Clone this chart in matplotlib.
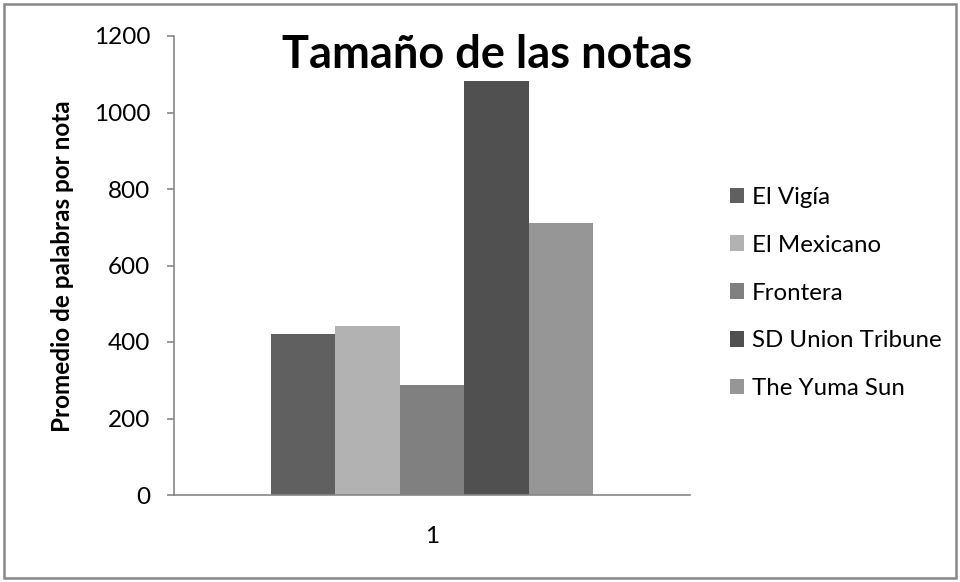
import matplotlib
matplotlib.use("Agg")
import matplotlib.pyplot as plt
from matplotlib.patches import Rectangle

# ── datos ──
periodicos = ["El Vigía", "El Mexicano", "Frontera", "SD Union Tribune", "The Yuma Sun"]
palabras = [422, 443, 288, 1083, 710]
colores = ["#606060", "#b2b2b2", "#808080", "#505050", "#969696"]
categorias = ["1"]
yticks = [0, 200, 400, 600, 800, 1000, 1200]

plt.rcParams["font.family"] = ["Lato", "DejaVu Sans"]

W, H = 960, 582
fig = plt.figure(figsize=(W / 100, H / 100), dpi=100)
ax = fig.add_axes([174 / W, 1 - 495 / H, 516 / W, 459 / H])

# barras agrupadas (estilo Excel, gap 60%)
n = len(periodicos)
ancho = 1 / (1 + 0.6) / n
for i, (nombre, val, col) in enumerate(zip(periodicos, palabras, colores)):
    off = (i - (n - 1) / 2) * ancho
    ax.bar(0 + off, val, width=ancho, color=col, label=nombre, linewidth=0)

ax.set_xlim(-0.5, 0.5)
ax.set_ylim(0, 1200)
ax.set_yticks(yticks)
ax.set_xticks([0])
ax.set_xticklabels(categorias)

gris = "#868686"
for s in ["top", "right"]:
    ax.spines[s].set_visible(False)
for s in ["left", "bottom"]:
    ax.spines[s].set_color(gris)
    ax.spines[s].set_linewidth(1.2)
ax.tick_params(axis="y", direction="out", length=5, color=gris, width=1.2,
               labelsize=17.5, pad=12)
ax.tick_params(axis="x", length=0, labelsize=17.5, pad=22)

fig.text(63 / W, 1 - 266 / H, "Promedio de palabras por nota", rotation=90,
         ha="center", va="center", fontsize=17.5, fontweight="bold")

fig.text(487 / W, 1 - 68 / H, "Tamaño de las notas", ha="center",
         va="baseline", fontsize=32.5, fontweight="bold")

fig.legend(loc="center left", bbox_to_anchor=(730 / W, 1 - 293 / H),
           frameon=False, fontsize=17.3, handlelength=0.6, handleheight=0.6,
           handletextpad=0.3, labelspacing=1.12, borderaxespad=0,
           borderpad=0)

# marco exterior del gráfico
fig.patches.append(Rectangle((4 / W, 4 / H), 1 - 8 / W, 1 - 8 / H,
                             transform=fig.transFigure, fill=False,
                             edgecolor="#878787", linewidth=1.8))

plt.savefig("out.png", dpi=100)
